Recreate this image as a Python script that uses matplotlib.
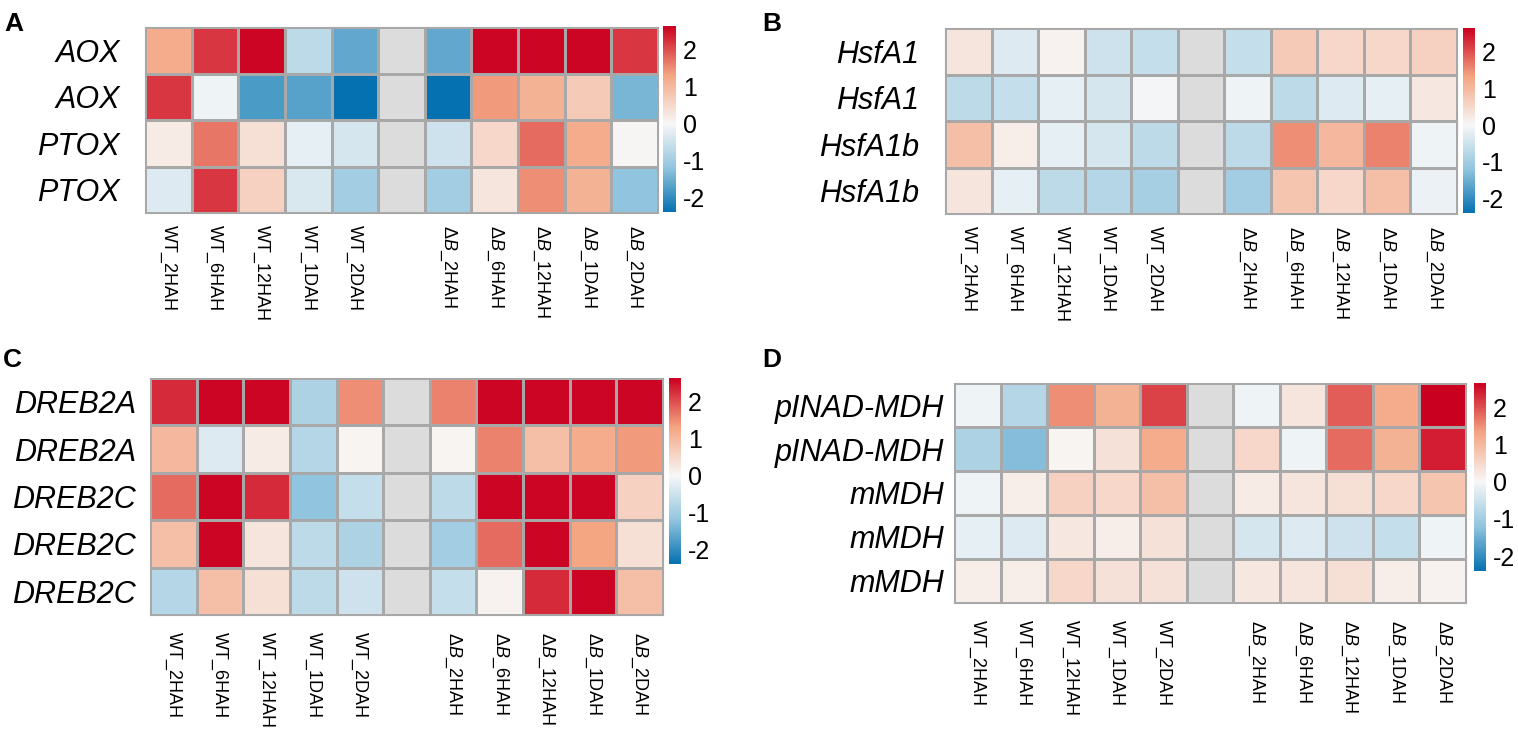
import numpy as np
import matplotlib
matplotlib.use("Agg")
import matplotlib.pyplot as plt
from matplotlib.colors import LinearSegmentedColormap

plt.rcParams['font.family'] = ['Liberation Sans', 'DejaVu Sans']
plt.rcParams['mathtext.fontset'] = 'custom'
plt.rcParams['mathtext.rm'] = 'Liberation Sans'
plt.rcParams['mathtext.it'] = 'Liberation Sans:italic'

nan = np.nan

# column labels (the 6th column is an empty spacer)
col_labels = ['WT_2HAH', 'WT_6HAH', 'WT_12HAH', 'WT_1DAH', 'WT_2DAH', '',
              r'Δ$\mathit{B}$_2HAH', r'Δ$\mathit{B}$_6HAH', r'Δ$\mathit{B}$_12HAH',
              r'Δ$\mathit{B}$_1DAH', r'Δ$\mathit{B}$_2DAH']

# panel A
genes_a = ['AOX', 'AOX', 'PTOX', 'PTOX']
vals_a = [
    [1.2, 2.2, 2.6, -0.7, -1.6, nan, -1.6, 2.6, 2.6, 2.6, 2.2],
    [2.2, -0.1, -1.8, -1.7, -2.4, nan, -2.4, 1.4, 1.1, 0.7, -1.4],
    [0.2, 1.7, 0.4, -0.2, -0.4, nan, -0.5, 0.5, 1.8, 1.2, 0.03],
    [-0.3, 2.2, 0.6, -0.35, -1.0, nan, -1.0, 0.3, 1.5, 1.1, -1.2],
]

# panel B
genes_b = ['HsfA1', 'HsfA1', 'HsfA1b', 'HsfA1b']
vals_b = [
    [0.3, -0.3, 0.1, -0.5, -0.6, nan, -0.6, 0.7, 0.5, 0.5, 0.6],
    [-0.7, -0.6, -0.2, -0.4, -0.05, nan, -0.1, -0.7, -0.3, -0.2, 0.25],
    [0.9, 0.15, -0.2, -0.4, -0.7, nan, -0.7, 1.5, 1.0, 1.6, -0.1],
    [0.3, -0.2, -0.7, -0.8, -0.95, nan, -1.0, 0.8, 0.5, 0.9, -0.15],
]

# panel C
genes_c = ['DREB2A', 'DREB2A', 'DREB2C', 'DREB2C', 'DREB2C']
vals_c = [
    [2.3, 2.6, 2.6, -0.9, 1.5, nan, 1.6, 2.6, 2.6, 2.6, 2.6],
    [1.0, -0.3, 0.2, -0.8, 0.05, nan, 0.05, 1.6, 0.9, 1.2, 1.4],
    [1.8, 2.6, 2.3, -1.2, -0.6, nan, -0.7, 2.6, 2.6, 2.6, 0.6],
    [0.9, 2.6, 0.3, -0.7, -0.9, nan, -1.0, 1.8, 2.6, 1.3, 0.4],
    [-0.8, 0.9, 0.4, -0.7, -0.5, nan, -0.6, 0.1, 2.3, 2.6, 0.9],
]

# panel D
genes_d = ['pINAD-MDH', 'pINAD-MDH', 'mMDH', 'mMDH', 'mMDH']
vals_d = [
    [-0.1, -0.8, 1.5, 1.1, 2.1, nan, -0.1, 0.3, 1.9, 1.2, 2.65],
    [-0.9, -1.3, 0.05, 0.35, 1.2, nan, 0.5, -0.1, 1.8, 1.1, 2.4],
    [-0.1, 0.15, 0.6, 0.5, 0.9, nan, 0.2, 0.3, 0.4, 0.5, 0.8],
    [-0.2, -0.3, 0.25, 0.15, 0.35, nan, -0.4, -0.3, -0.5, -0.6, -0.1],
    [0.15, 0.15, 0.5, 0.35, 0.35, nan, 0.25, 0.3, 0.4, 0.15, 0.1],
]

W, H = 1518, 732
VMIN, VMAX = -2.4, 2.65

def frac(v):
    return (v - VMIN) / (VMAX - VMIN)

cmap = LinearSegmentedColormap.from_list('rdbu5', [
    (0.0, '#0571B0'), (frac(-1.2), '#92C5DE'), (frac(0.0), '#F7F7F7'),
    (frac(1.32), '#F4A582'), (1.0, '#CA0020')])
cmap.set_bad('#DCDCDC')

GRID = '#A8A8A8'

fig = plt.figure(figsize=(W / 100, H / 100), dpi=100)


def px_axes(x0, y0, x1, y1):
    return fig.add_axes([x0 / W, 1 - y1 / H, (x1 - x0) / W, (y1 - y0) / H])


def draw_panel(letter, letter_xy, genes, vals, heat, cbar, ypad, xpad):
    data = np.ma.masked_invalid(np.array(vals, dtype=float))
    nr, nc = data.shape
    ax = px_axes(*heat)
    mesh = ax.pcolormesh(np.arange(nc + 1), np.arange(nr + 1), data, cmap=cmap,
                         vmin=VMIN, vmax=VMAX, edgecolors=GRID, linewidth=0.8)
    ax.set_xlim(0, nc)
    ax.set_ylim(nr, 0)
    for s in ax.spines.values():
        s.set_color(GRID)
        s.set_linewidth(0.8)
    ax.set_yticks(np.arange(nr) + 0.5)
    ax.set_yticklabels(genes, fontsize=22, style='italic')
    ax.set_xticks(np.arange(nc) + 0.5)
    ax.set_xticklabels(col_labels, fontsize=13, rotation=270)
    ax.tick_params(axis='y', length=0, pad=ypad)
    ax.tick_params(axis='x', length=0, pad=xpad)

    cax = px_axes(*cbar)
    cb = fig.colorbar(mesh, cax=cax)
    cb.outline.set_visible(False)
    cb.set_ticks([2, 1, 0, -1, -2])
    cb.set_ticklabels(['2', '1', '0', '-1', '-2'])
    cax.tick_params(length=0, labelsize=18, pad=5)

    fig.text(letter_xy[0] / W, 1 - letter_xy[1] / H, letter, fontsize=19,
             fontweight='bold', ha='left', va='top')


draw_panel('A', (4, 12), genes_a, vals_a, (145, 27, 658, 213), (663, 26, 676, 212), 18, 8.5)
draw_panel('B', (762, 12), genes_b, vals_b, (945, 28, 1457, 214), (1463, 28, 1475, 213), 18.5, 9)
draw_panel('C', (3, 348), genes_c, vals_c, (150, 378, 663, 615), (669, 378, 681, 564), 10, 12)
draw_panel('D', (762, 348), genes_d, vals_d, (954, 383, 1466, 603), (1474, 383, 1486, 571), 7, 12)

fig.savefig('out.png', dpi=100, facecolor='white')
